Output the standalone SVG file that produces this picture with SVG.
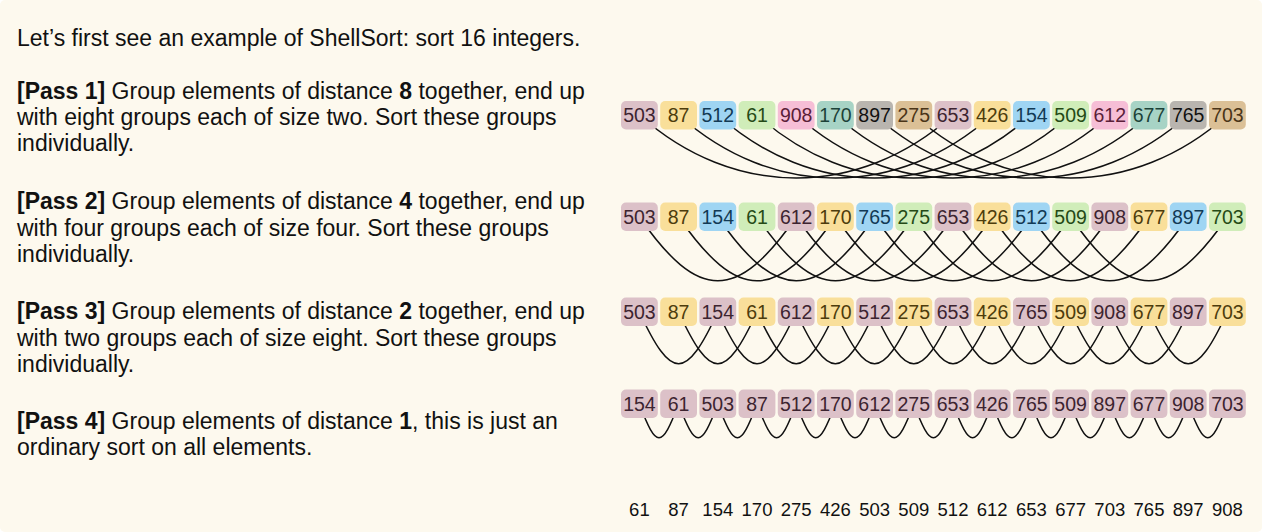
<svg xmlns="http://www.w3.org/2000/svg" width="1262" height="532" viewBox="0 0 1262 532">
<style>
.bg{fill:#fdf9ee}
.t{font-family:"Liberation Sans",Arial,Helvetica,sans-serif;font-size:23px;fill:#111}
.b{font-weight:bold}
.n{font-family:"Liberation Sans",Arial,Helvetica,sans-serif;font-size:19.5px;text-anchor:middle}
.s{font-family:"Liberation Sans",Arial,Helvetica,sans-serif;font-size:18.5px;text-anchor:middle;fill:#111}
.arc{fill:none;stroke:#111;stroke-width:1.5}
rect{rx:5;ry:5}
.mv rect{fill:#dcc1c8}.mv text{fill:#3d2430}
.ye rect{fill:#f9df9a}.ye text{fill:#4d3c0c}
.bl rect{fill:#9fd5f3}.bl text{fill:#123a55}
.gr rect{fill:#d0edb9}.gr text{fill:#254a16}
.pk rect{fill:#f6bed6}.pk text{fill:#5a2038}
.tl rect{fill:#a7d3c5}.tl text{fill:#1c4238}
.gy rect{fill:#b9b5af}.gy text{fill:#111111}
.tn rect{fill:#dbc096}.tn text{fill:#4a3518}
</style>
<rect class="bg" x="0" y="0" width="1262" height="532" rx="0" ry="0"/>

<g id="description">
<text class="t" x="17" y="46">Let’s first see an example of ShellSort: sort 16 integers.</text>
<text class="t" x="17" y="99"><tspan class="b">[Pass 1]</tspan> Group elements of distance <tspan class="b">8</tspan> together, end up</text>
<text class="t" x="17" y="125">with eight groups each of size two. Sort these groups</text>
<text class="t" x="17" y="151">individually.</text>
<text class="t" x="17" y="209"><tspan class="b">[Pass 2]</tspan> Group elements of distance <tspan class="b">4</tspan> together, end up</text>
<text class="t" x="17" y="236">with four groups each of size four. Sort these groups</text>
<text class="t" x="17" y="262">individually.</text>
<text class="t" x="17" y="319"><tspan class="b">[Pass 3]</tspan> Group elements of distance <tspan class="b">2</tspan> together, end up</text>
<text class="t" x="17" y="346">with two groups each of size eight. Sort these groups</text>
<text class="t" x="17" y="372">individually.</text>
<text class="t" x="17" y="429"><tspan class="b">[Pass 4]</tspan> Group elements of distance <tspan class="b">1</tspan>, this is just an</text>
<text class="t" x="17" y="455">ordinary sort on all elements.</text>
</g>

<g id="connectors">
<g id="arcs-pass1">
<path class="arc" d="M639.4 115 c94 84 219.6 84 313.6 0"/>
<path class="arc" d="M678.6 115 c94 84 219.6 84 313.6 0"/>
<path class="arc" d="M717.8 115 c94 84 219.6 84 313.6 0"/>
<path class="arc" d="M757 115 c94 84 219.6 84 313.6 0"/>
<path class="arc" d="M796.2 115 c94 84 219.6 84 313.6 0"/>
<path class="arc" d="M835.4 115 c94 84 219.6 84 313.6 0"/>
<path class="arc" d="M874.6 115 c94 84 219.6 84 313.6 0"/>
<path class="arc" d="M913.8 115 c94 84 219.6 84 313.6 0"/>
</g>
<g id="arcs-pass2">
<path class="arc" d="M639.4 217 c59 85 97.8 85 156.8 0"/>
<path class="arc" d="M678.6 217 c59 85 97.8 85 156.8 0"/>
<path class="arc" d="M717.8 217 c59 85 97.8 85 156.8 0"/>
<path class="arc" d="M757 217 c59 85 97.8 85 156.8 0"/>
<path class="arc" d="M796.2 217 c59 85 97.8 85 156.8 0"/>
<path class="arc" d="M835.4 217 c59 85 97.8 85 156.8 0"/>
<path class="arc" d="M874.6 217 c59 85 97.8 85 156.8 0"/>
<path class="arc" d="M913.8 217 c59 85 97.8 85 156.8 0"/>
<path class="arc" d="M953 217 c59 85 97.8 85 156.8 0"/>
<path class="arc" d="M992.2 217 c59 85 97.8 85 156.8 0"/>
<path class="arc" d="M1031.4 217 c59 85 97.8 85 156.8 0"/>
<path class="arc" d="M1070.6 217 c59 85 97.8 85 156.8 0"/>
</g>
<g id="arcs-pass3">
<path class="arc" d="M639.4 312 c32 69 46.4 69 78.4 0"/>
<path class="arc" d="M678.6 312 c32 69 46.4 69 78.4 0"/>
<path class="arc" d="M717.8 312 c32 69 46.4 69 78.4 0"/>
<path class="arc" d="M757 312 c32 69 46.4 69 78.4 0"/>
<path class="arc" d="M796.2 312 c32 69 46.4 69 78.4 0"/>
<path class="arc" d="M835.4 312 c32 69 46.4 69 78.4 0"/>
<path class="arc" d="M874.6 312 c32 69 46.4 69 78.4 0"/>
<path class="arc" d="M913.8 312 c32 69 46.4 69 78.4 0"/>
<path class="arc" d="M953 312 c32 69 46.4 69 78.4 0"/>
<path class="arc" d="M992.2 312 c32 69 46.4 69 78.4 0"/>
<path class="arc" d="M1031.4 312 c32 69 46.4 69 78.4 0"/>
<path class="arc" d="M1070.6 312 c32 69 46.4 69 78.4 0"/>
<path class="arc" d="M1109.8 312 c32 69 46.4 69 78.4 0"/>
<path class="arc" d="M1149 312 c32 69 46.4 69 78.4 0"/>
</g>
<g id="arcs-pass4">
<path class="arc" d="M639.4 404 c17 45 22.2 45 39.2 0"/>
<path class="arc" d="M678.6 404 c17 45 22.2 45 39.2 0"/>
<path class="arc" d="M717.8 404 c17 45 22.2 45 39.2 0"/>
<path class="arc" d="M757 404 c17 45 22.2 45 39.2 0"/>
<path class="arc" d="M796.2 404 c17 45 22.2 45 39.2 0"/>
<path class="arc" d="M835.4 404 c17 45 22.2 45 39.2 0"/>
<path class="arc" d="M874.6 404 c17 45 22.2 45 39.2 0"/>
<path class="arc" d="M913.8 404 c17 45 22.2 45 39.2 0"/>
<path class="arc" d="M953 404 c17 45 22.2 45 39.2 0"/>
<path class="arc" d="M992.2 404 c17 45 22.2 45 39.2 0"/>
<path class="arc" d="M1031.4 404 c17 45 22.2 45 39.2 0"/>
<path class="arc" d="M1070.6 404 c17 45 22.2 45 39.2 0"/>
<path class="arc" d="M1109.8 404 c17 45 22.2 45 39.2 0"/>
<path class="arc" d="M1149 404 c17 45 22.2 45 39.2 0"/>
<path class="arc" d="M1188.2 404 c17 45 22.2 45 39.2 0"/>
</g>
</g>

<g id="row1">
<g id="r1-0" class="mv"><rect x="621" y="101" width="36.8" height="28.5"/><text class="n" x="639.4" y="122">503</text></g>
<g id="r1-1" class="ye"><rect x="660.2" y="101" width="36.8" height="28.5"/><text class="n" x="678.6" y="122">87</text></g>
<g id="r1-2" class="bl"><rect x="699.4" y="101" width="36.8" height="28.5"/><text class="n" x="717.8" y="122">512</text></g>
<g id="r1-3" class="gr"><rect x="738.6" y="101" width="36.8" height="28.5"/><text class="n" x="757" y="122">61</text></g>
<g id="r1-4" class="pk"><rect x="777.8" y="101" width="36.8" height="28.5"/><text class="n" x="796.2" y="122">908</text></g>
<g id="r1-5" class="tl"><rect x="817" y="101" width="36.8" height="28.5"/><text class="n" x="835.4" y="122">170</text></g>
<g id="r1-6" class="gy"><rect x="856.2" y="101" width="36.8" height="28.5"/><text class="n" x="874.6" y="122">897</text></g>
<g id="r1-7" class="tn"><rect x="895.4" y="101" width="36.8" height="28.5"/><text class="n" x="913.8" y="122">275</text></g>
<g id="r1-8" class="mv"><rect x="934.6" y="101" width="36.8" height="28.5"/><text class="n" x="953" y="122">653</text></g>
<g id="r1-9" class="ye"><rect x="973.8" y="101" width="36.8" height="28.5"/><text class="n" x="992.2" y="122">426</text></g>
<g id="r1-10" class="bl"><rect x="1013" y="101" width="36.8" height="28.5"/><text class="n" x="1031.4" y="122">154</text></g>
<g id="r1-11" class="gr"><rect x="1052.2" y="101" width="36.8" height="28.5"/><text class="n" x="1070.6" y="122">509</text></g>
<g id="r1-12" class="pk"><rect x="1091.4" y="101" width="36.8" height="28.5"/><text class="n" x="1109.8" y="122">612</text></g>
<g id="r1-13" class="tl"><rect x="1130.6" y="101" width="36.8" height="28.5"/><text class="n" x="1149" y="122">677</text></g>
<g id="r1-14" class="gy"><rect x="1169.8" y="101" width="36.8" height="28.5"/><text class="n" x="1188.2" y="122">765</text></g>
<g id="r1-15" class="tn"><rect x="1209" y="101" width="36.8" height="28.5"/><text class="n" x="1227.4" y="122">703</text></g>
</g>

<g id="row2">
<g id="r2-0" class="mv"><rect x="621" y="202.5" width="36.8" height="28.5"/><text class="n" x="639.4" y="223.5">503</text></g>
<g id="r2-1" class="ye"><rect x="660.2" y="202.5" width="36.8" height="28.5"/><text class="n" x="678.6" y="223.5">87</text></g>
<g id="r2-2" class="bl"><rect x="699.4" y="202.5" width="36.8" height="28.5"/><text class="n" x="717.8" y="223.5">154</text></g>
<g id="r2-3" class="gr"><rect x="738.6" y="202.5" width="36.8" height="28.5"/><text class="n" x="757" y="223.5">61</text></g>
<g id="r2-4" class="mv"><rect x="777.8" y="202.5" width="36.8" height="28.5"/><text class="n" x="796.2" y="223.5">612</text></g>
<g id="r2-5" class="ye"><rect x="817" y="202.5" width="36.8" height="28.5"/><text class="n" x="835.4" y="223.5">170</text></g>
<g id="r2-6" class="bl"><rect x="856.2" y="202.5" width="36.8" height="28.5"/><text class="n" x="874.6" y="223.5">765</text></g>
<g id="r2-7" class="gr"><rect x="895.4" y="202.5" width="36.8" height="28.5"/><text class="n" x="913.8" y="223.5">275</text></g>
<g id="r2-8" class="mv"><rect x="934.6" y="202.5" width="36.8" height="28.5"/><text class="n" x="953" y="223.5">653</text></g>
<g id="r2-9" class="ye"><rect x="973.8" y="202.5" width="36.8" height="28.5"/><text class="n" x="992.2" y="223.5">426</text></g>
<g id="r2-10" class="bl"><rect x="1013" y="202.5" width="36.8" height="28.5"/><text class="n" x="1031.4" y="223.5">512</text></g>
<g id="r2-11" class="gr"><rect x="1052.2" y="202.5" width="36.8" height="28.5"/><text class="n" x="1070.6" y="223.5">509</text></g>
<g id="r2-12" class="mv"><rect x="1091.4" y="202.5" width="36.8" height="28.5"/><text class="n" x="1109.8" y="223.5">908</text></g>
<g id="r2-13" class="ye"><rect x="1130.6" y="202.5" width="36.8" height="28.5"/><text class="n" x="1149" y="223.5">677</text></g>
<g id="r2-14" class="bl"><rect x="1169.8" y="202.5" width="36.8" height="28.5"/><text class="n" x="1188.2" y="223.5">897</text></g>
<g id="r2-15" class="gr"><rect x="1209" y="202.5" width="36.8" height="28.5"/><text class="n" x="1227.4" y="223.5">703</text></g>
</g>

<g id="row3">
<g id="r3-0" class="mv"><rect x="621" y="297.5" width="36.8" height="28.5"/><text class="n" x="639.4" y="318.5">503</text></g>
<g id="r3-1" class="ye"><rect x="660.2" y="297.5" width="36.8" height="28.5"/><text class="n" x="678.6" y="318.5">87</text></g>
<g id="r3-2" class="mv"><rect x="699.4" y="297.5" width="36.8" height="28.5"/><text class="n" x="717.8" y="318.5">154</text></g>
<g id="r3-3" class="ye"><rect x="738.6" y="297.5" width="36.8" height="28.5"/><text class="n" x="757" y="318.5">61</text></g>
<g id="r3-4" class="mv"><rect x="777.8" y="297.5" width="36.8" height="28.5"/><text class="n" x="796.2" y="318.5">612</text></g>
<g id="r3-5" class="ye"><rect x="817" y="297.5" width="36.8" height="28.5"/><text class="n" x="835.4" y="318.5">170</text></g>
<g id="r3-6" class="mv"><rect x="856.2" y="297.5" width="36.8" height="28.5"/><text class="n" x="874.6" y="318.5">512</text></g>
<g id="r3-7" class="ye"><rect x="895.4" y="297.5" width="36.8" height="28.5"/><text class="n" x="913.8" y="318.5">275</text></g>
<g id="r3-8" class="mv"><rect x="934.6" y="297.5" width="36.8" height="28.5"/><text class="n" x="953" y="318.5">653</text></g>
<g id="r3-9" class="ye"><rect x="973.8" y="297.5" width="36.8" height="28.5"/><text class="n" x="992.2" y="318.5">426</text></g>
<g id="r3-10" class="mv"><rect x="1013" y="297.5" width="36.8" height="28.5"/><text class="n" x="1031.4" y="318.5">765</text></g>
<g id="r3-11" class="ye"><rect x="1052.2" y="297.5" width="36.8" height="28.5"/><text class="n" x="1070.6" y="318.5">509</text></g>
<g id="r3-12" class="mv"><rect x="1091.4" y="297.5" width="36.8" height="28.5"/><text class="n" x="1109.8" y="318.5">908</text></g>
<g id="r3-13" class="ye"><rect x="1130.6" y="297.5" width="36.8" height="28.5"/><text class="n" x="1149" y="318.5">677</text></g>
<g id="r3-14" class="mv"><rect x="1169.8" y="297.5" width="36.8" height="28.5"/><text class="n" x="1188.2" y="318.5">897</text></g>
<g id="r3-15" class="ye"><rect x="1209" y="297.5" width="36.8" height="28.5"/><text class="n" x="1227.4" y="318.5">703</text></g>
</g>

<g id="row4">
<g id="r4-0" class="mv"><rect x="621" y="389.5" width="36.8" height="28.5"/><text class="n" x="639.4" y="410.5">154</text></g>
<g id="r4-1" class="mv"><rect x="660.2" y="389.5" width="36.8" height="28.5"/><text class="n" x="678.6" y="410.5">61</text></g>
<g id="r4-2" class="mv"><rect x="699.4" y="389.5" width="36.8" height="28.5"/><text class="n" x="717.8" y="410.5">503</text></g>
<g id="r4-3" class="mv"><rect x="738.6" y="389.5" width="36.8" height="28.5"/><text class="n" x="757" y="410.5">87</text></g>
<g id="r4-4" class="mv"><rect x="777.8" y="389.5" width="36.8" height="28.5"/><text class="n" x="796.2" y="410.5">512</text></g>
<g id="r4-5" class="mv"><rect x="817" y="389.5" width="36.8" height="28.5"/><text class="n" x="835.4" y="410.5">170</text></g>
<g id="r4-6" class="mv"><rect x="856.2" y="389.5" width="36.8" height="28.5"/><text class="n" x="874.6" y="410.5">612</text></g>
<g id="r4-7" class="mv"><rect x="895.4" y="389.5" width="36.8" height="28.5"/><text class="n" x="913.8" y="410.5">275</text></g>
<g id="r4-8" class="mv"><rect x="934.6" y="389.5" width="36.8" height="28.5"/><text class="n" x="953" y="410.5">653</text></g>
<g id="r4-9" class="mv"><rect x="973.8" y="389.5" width="36.8" height="28.5"/><text class="n" x="992.2" y="410.5">426</text></g>
<g id="r4-10" class="mv"><rect x="1013" y="389.5" width="36.8" height="28.5"/><text class="n" x="1031.4" y="410.5">765</text></g>
<g id="r4-11" class="mv"><rect x="1052.2" y="389.5" width="36.8" height="28.5"/><text class="n" x="1070.6" y="410.5">509</text></g>
<g id="r4-12" class="mv"><rect x="1091.4" y="389.5" width="36.8" height="28.5"/><text class="n" x="1109.8" y="410.5">897</text></g>
<g id="r4-13" class="mv"><rect x="1130.6" y="389.5" width="36.8" height="28.5"/><text class="n" x="1149" y="410.5">677</text></g>
<g id="r4-14" class="mv"><rect x="1169.8" y="389.5" width="36.8" height="28.5"/><text class="n" x="1188.2" y="410.5">908</text></g>
<g id="r4-15" class="mv"><rect x="1209" y="389.5" width="36.8" height="28.5"/><text class="n" x="1227.4" y="410.5">703</text></g>
</g>

<g id="sorted">
<text class="s" x="639.4" y="516">61</text>
<text class="s" x="678.6" y="516">87</text>
<text class="s" x="717.8" y="516">154</text>
<text class="s" x="757" y="516">170</text>
<text class="s" x="796.2" y="516">275</text>
<text class="s" x="835.4" y="516">426</text>
<text class="s" x="874.6" y="516">503</text>
<text class="s" x="913.8" y="516">509</text>
<text class="s" x="953" y="516">512</text>
<text class="s" x="992.2" y="516">612</text>
<text class="s" x="1031.4" y="516">653</text>
<text class="s" x="1070.6" y="516">677</text>
<text class="s" x="1109.8" y="516">703</text>
<text class="s" x="1149" y="516">765</text>
<text class="s" x="1188.2" y="516">897</text>
<text class="s" x="1227.4" y="516">908</text>
</g>
</svg>
